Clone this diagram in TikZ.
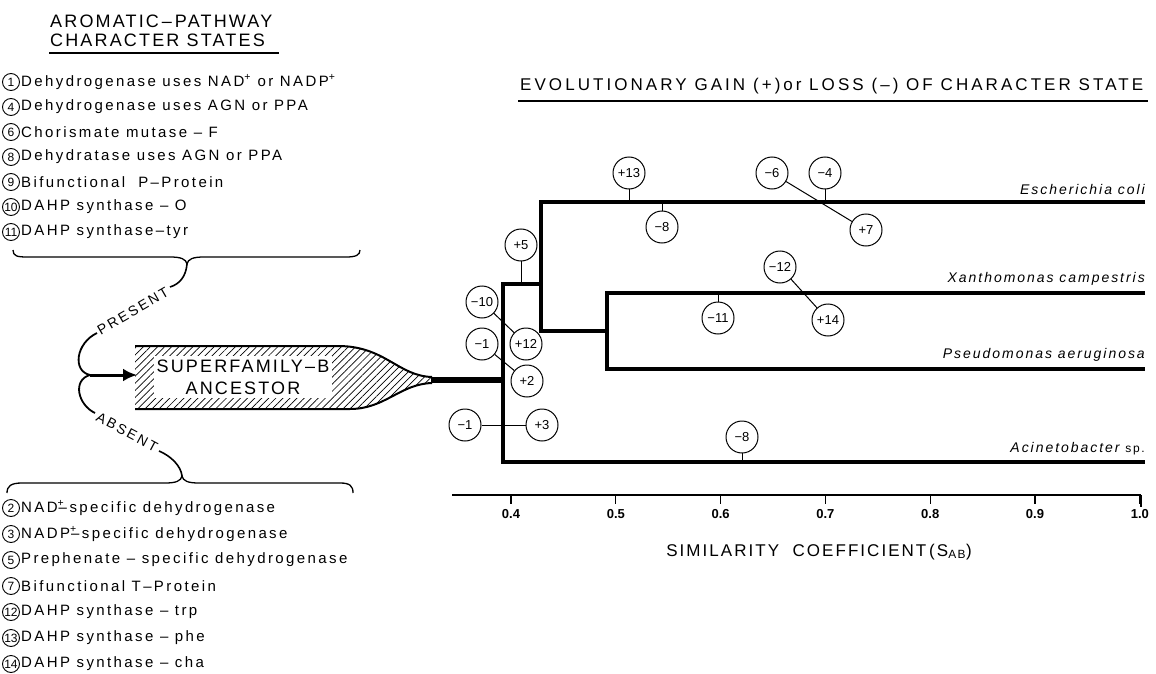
\documentclass[tikz,border=0pt]{standalone}
\usepackage{fontspec}
\setmainfont{Liberation Sans}
\newfontfamily\itemfont{Liberation Sans}[LetterSpace=16]
\newfontfamily\titlefont{Liberation Sans}[LetterSpace=12]
\newfontfamily\rtitlefont{Liberation Sans}[LetterSpace=18]
\newfontfamily\spfont{Liberation Sans}[LetterSpace=14]
\usetikzlibrary{patterns.meta,arrows.meta}
\tikzset{
  tree/.style={line width=4.5pt, line join=miter},
  evt/.style={circle, draw, line width=1pt, minimum size=32pt, inner sep=0pt, fill=white, font=\fontsize{13}{13}\selectfont},
  link/.style={line width=1pt},
  num/.style={circle, draw, line width=0.9pt, minimum size=17pt, inner sep=0pt, font=\fontsize{12}{12}\selectfont},
  item/.style={anchor=west, inner sep=0pt, font=\itemfont\fontsize{15}{15}\selectfont},
  title/.style={anchor=west, inner sep=0pt, font=\titlefont\fontsize{18}{18}\selectfont},
  species/.style={anchor=south east, inner sep=0pt, font=\spfont\itshape\fontsize{14}{14}\selectfont},
  brace/.style={line width=1.3pt},
  tick/.style={line width=1.2pt},
  ticklab/.style={font=\bfseries\fontsize{13}{13}\selectfont, anchor=north, inner sep=0pt},
}
\begin{document}
\begin{tikzpicture}[x=1pt,y=-1pt]
\useasboundingbox (0,0) rectangle (1156,674);
% ---------- left title ----------
\node[title] (t1) at (50,21) {AROMATIC\,–\,PATHWAY};
\node[title] (t2) at (50,40) {CHARACTER STATES};
\draw[line width=1.5pt] (49,53) -- (279,53);
% ---------- top list ----------
\foreach \n/\y/\t [count=\i] in {
  1/82/{Dehydrogenase uses NAD\textsuperscript{+} or NADP\textsuperscript{+}},
  4/107/{Dehydrogenase uses AGN or PPA},
  6/132/{Chorismate mutase – F},
  8/157/{Dehydratase uses AGN or PPA},
  9/182/{Bifunctional\ \ P–Protein},
  10/207/{DAHP synthase – O},
  11/232/{DAHP synthase–tyr}}{
  \node[num] (pn\i) at (11,\y) {\n};
  \node[item] (pt\i) at (21,\y) {\t};
}
% ---------- bottom list ----------
\foreach \n/\y/\t [count=\i] in {
  2/508/{NAD\rlap{\textsuperscript{+}}\kern1pt–\,specific dehydrogenase},
  3/534/{NADP\rlap{\textsuperscript{+}}\kern1pt–\,specific dehydrogenase},
  5/560/{Prephenate – specific dehydrogenase},
  7/586/{Bifunctional T–Protein},
  12/612/{DAHP synthase – trp},
  13/638/{DAHP synthase – phe},
  14/664/{DAHP synthase – cha}}{
  \node[num] (an\i) at (11,\y) {\n};
  \node[item] (at\i) at (21,\y) {\t};
}
% ---------- braces ----------
\coordinate (tcusp) at (187,264);
\coordinate (bcusp) at (182,476);
\draw[brace] (13,250) .. controls (13,256) and (17,257) .. (27,257) -- (170,257)
   .. controls (181,257) and (186,259) .. (tcusp)
   .. controls (188,259) and (193,257) .. (204,257) -- (346,257)
   .. controls (356,257) and (360,255) .. (360,250);
\draw[brace] (7,493) .. controls (7,486) and (11,483) .. (22,483) -- (165,483)
   .. controls (176,483) and (181,481) .. (bcusp)
   .. controls (183,481) and (188,483) .. (199,483) -- (340,483)
   .. controls (350,483) and (353,486) .. (353,493);
% ---------- present / absent ----------
\coordinate (junc) at (90,375);
\draw[line width=1.6pt] (tcusp) .. controls (186,276) and (180,284) .. (170,287);
\node[rotate=30, inner sep=0pt, font=\itemfont\fontsize{14}{14}\selectfont] (present) at (133,311) {PRESENT};
\draw[line width=1.8pt] (97,333) .. controls (76,343) and (72,371) .. (junc);
\draw[line width=1.8pt] (junc) .. controls (72,380) and (78,405) .. (95,413);
\node[rotate=-28, inner sep=0pt, font=\itemfont\fontsize{14}{14}\selectfont] (absent) at (127,432) {ABSENT};
\draw[line width=1.6pt] (159,451) .. controls (171,456) and (181,466) .. (bcusp);
% ---------- ancestor ----------
\path[pattern={Lines[angle=45,distance=5pt,line width=0.7pt]}]
  (135,346) -- (338,346) .. controls (385,346) and (398,376) .. (432,377)
  -- (432,383) .. controls (400,384) and (385,409) .. (350,409) -- (135,409) -- cycle;
\draw[line width=2pt] (135,346) -- (338,346) .. controls (385,346) and (398,376) .. (432,377);
\draw[line width=2pt] (135,409) -- (350,409) .. controls (385,409) and (400,384) .. (432,383);
\fill[white] (154,356) rectangle (332,398);
\node[inner sep=0pt, align=center, font=\titlefont\fontsize{18}{22}\selectfont] (anc) at (243,377) {SUPERFAMILY–B\\ANCESTOR};
\draw[line width=3pt, -{Latex[length=14pt,width=13pt]}] (junc) -- (137,375);
% ---------- tree ----------
\coordinate (root) at (503,380);
\draw[line width=6pt] (431,380) -- (root);
\coordinate (ecE) at (1145,202);
\coordinate (xaE) at (1145,293);
\coordinate (psE) at (1145,369);
\coordinate (acE) at (1145,462);
\draw[tree] (ecE) -- (541,202) -- (541,331) -- (607,331);
\draw[tree] (xaE) -- (607,293) -- (607,369) -- (psE);
\draw[tree] (541,284) -- (503,284) -- (503,462) -- (acE);
\node[species] (ec) at ([yshift=7pt]ecE) {Escherichia coli};
\node[species] (xa) at ([yshift=7pt]xaE) {Xanthomonas campestris};
\node[species] (ps) at ([yshift=7pt]psE) {Pseudomonas aeruginosa};
\node[species] (ac) at ([yshift=7pt]acE) {Acinetobacter {\upshape\fontsize{12}{12}\selectfont sp.}};
% ---------- events ----------
\coordinate (s13) at (629,202);
\coordinate (s8a) at (662,202);
\coordinate (s4) at (825,202);
\coordinate (s5) at (521,284);
\coordinate (s11) at (718,293);
\coordinate (s8b) at (742,462);
\draw[link] (629,173) -- (s13);
\draw[link] (662,227) -- (s8a);
\draw[link] (825,173) -- (s4);
\draw[link] (521,245) -- (s5);
\draw[link] (718,318) -- (s11);
\draw[link] (742,437) -- (s8b);
\node[evt] (p13) at (629,173) {+13};
\node[evt] (m8a) at (662,227) {−8};
\node[evt] (m6) at (772,173) {−6};
\node[evt] (m4) at (825,173) {−4};
\node[evt] (p7) at (866,230) {+7};
\node[evt] (p5) at (521,245) {+5};
\node[evt] (m10) at (482,302) {−10};
\node[evt] (p12) at (526,344) {+12};
\node[evt] (m1a) at (482,344) {−1};
\node[evt] (p2) at (527,381) {+2};
\node[evt] (m11) at (718,318) {−11};
\node[evt] (m12) at (780,267) {−12};
\node[evt] (p14) at (828,320) {+14};
\node[evt] (m1b) at (465,425) {−1};
\node[evt] (p3) at (542,425) {+3};
\node[evt] (m8b) at (742,437) {−8};
\draw[link] (m6) -- (p7);
\draw[link] (m12) -- (p14);
\draw[link] (m10) -- (p12);
\draw[link] (m1a) -- (p2);
\draw[link] (m1b) -- (p3);
% ---------- right title ----------
\node[anchor=west, inner sep=0pt, font=\rtitlefont\fontsize{17}{17}\selectfont] (rt) at (520,86) {EVOLUTIONARY GAIN (+)\,or LOSS (–) OF CHARACTER STATE};
\draw[line width=1.5pt] (518,101) -- (1148,101);
% ---------- axis ----------
\coordinate (axL) at (452,495);
\coordinate (axR) at (1141,495);
\draw[line width=1.8pt] (axL) -- (axR);
\foreach \v/\lab in {0/0.4,1/0.5,2/0.6,3/0.7,4/0.8,5/0.9,6/1.0}{
  \draw[tick] (511+104.8*\v,495) -- (511+104.8*\v,504);
  \node[ticklab] (tl\v) at (511+104.8*\v,509) {\lab};
}
\draw[tick] (1141,495) -- (1141,507);
\node[inner sep=0pt, font=\titlefont\fontsize{17}{17}\selectfont] (xl) at (819,552) {SIMILARITY\ \ COEFFICIENT\,(S\textsubscript{AB})};
\end{tikzpicture}
\end{document}
